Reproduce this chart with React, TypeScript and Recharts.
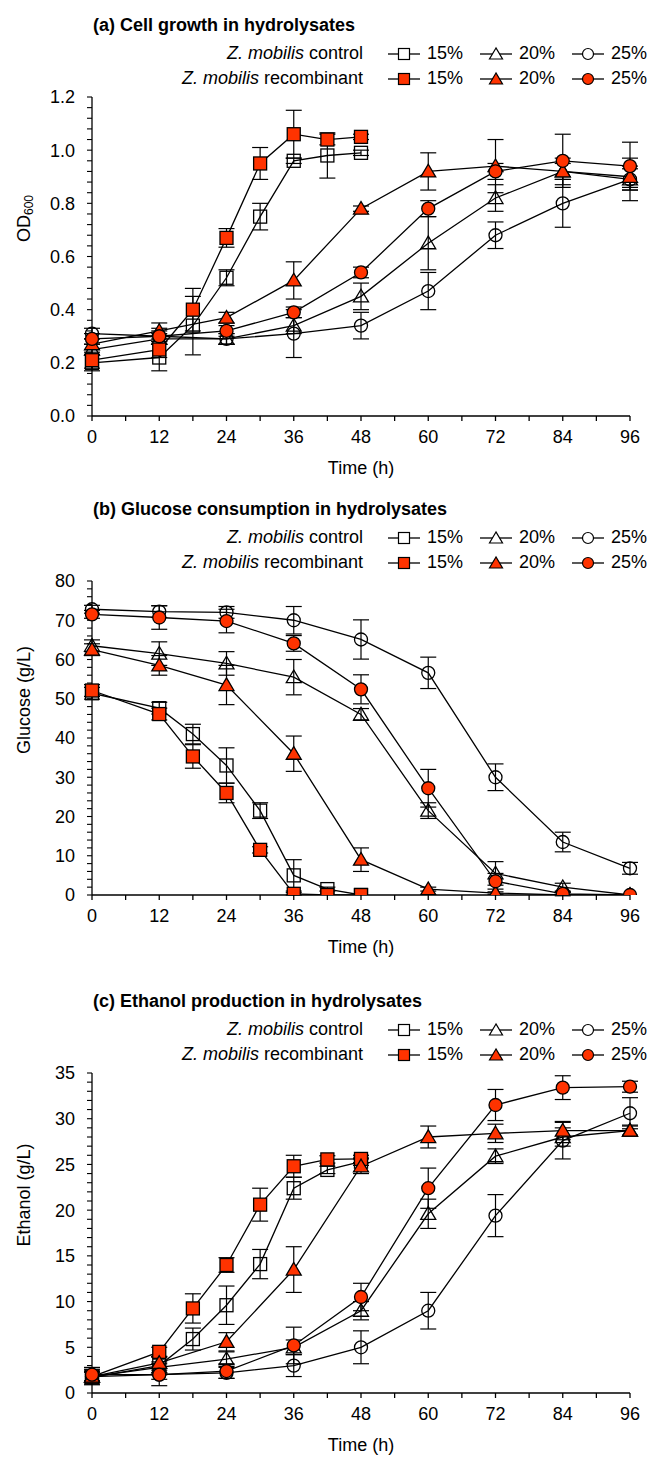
import React from "react";
import { LineChart, Line, XAxis, YAxis, ErrorBar } from "recharts";

const FONT = '"Liberation Sans", Arial, sans-serif';
const RED = "#FF3300";

// sampling times (h)
const times15 = [0, 12, 18, 24, 30, 36, 42, 48];
const timesAll = [0, 12, 24, 36, 48, 60, 72, 84, 96];
const xTicks = [0, 6, 12, 18, 24, 30, 36, 42, 48, 54, 60, 66, 72, 78, 84, 90, 96];

// (a) OD600
const odCtrl15 = [0.2, 0.22, 0.34, 0.52, 0.75, 0.96, 0.98, 0.99];
const odCtrl15Err = [0.03, 0.05, 0.11, 0.03, 0.05, 0.01, 0.085, 0.01];
const odRec15 = [0.21, 0.25, 0.4, 0.67, 0.95, 1.06, 1.04, 1.05];
const odRec15Err = [0.03, 0.03, 0.08, 0.035, 0.06, 0.09, 0.02, 0.01];
const odCtrl20 = [0.25, 0.29, 0.29, 0.34, 0.45, 0.65, 0.82, 0.92, 0.89];
const odCtrl20Err = [0.02, 0.02, 0.02, 0.03, 0.05, 0.1, 0.05, 0.03, 0.04];
const odRec20 = [0.27, 0.32, 0.37, 0.51, 0.78, 0.92, 0.94, 0.92, 0.9];
const odRec20Err = [0.02, 0.03, 0.02, 0.07, 0.01, 0.07, 0.1, 0.05, 0.04];
const odCtrl25 = [0.31, 0.3, 0.29, 0.31, 0.34, 0.47, 0.68, 0.8, 0.89];
const odCtrl25Err = [0.02, 0.02, 0.02, 0.09, 0.05, 0.07, 0.05, 0.09, 0.08];
const odRec25 = [0.29, 0.3, 0.32, 0.39, 0.54, 0.78, 0.92, 0.96, 0.94];
const odRec25Err = [0.02, 0.03, 0.02, 0.02, 0.02, 0.03, 0.03, 0.1, 0.09];

// (b) glucose g/L
const gluCtrl15 = [51.4, 47.6, 41.0, 33.0, 21.5, 5.0, 1.5, 0];
const gluCtrl15Err = [1.5, 1.5, 2.5, 4.5, 2, 4, 0.5, 0];
const gluRec15 = [52.1, 46.1, 35.3, 26.0, 11.5, 0.3, 0, 0];
const gluRec15Err = [1.5, 1.5, 3, 2.5, 0.8, 0.3, 0, 0];
const gluCtrl20 = [63.5, 61.5, 59.0, 55.5, 46.0, 21.5, 5.5, 2.0, 0];
const gluCtrl20Err = [1.5, 3, 3, 4.5, 1.5, 2, 3, 1, 0];
const gluRec20 = [62.5, 58.5, 53.5, 36.0, 9.0, 1.5, 0.5, 0, 0];
const gluRec20Err = [1.5, 2.5, 5, 4.5, 3, 0.5, 0.3, 0, 0];
const gluCtrl25 = [72.8, 72.2, 72.0, 70.0, 65.1, 56.6, 30.0, 13.5, 6.8];
const gluCtrl25Err = [1, 1.5, 1.5, 3.5, 5, 4, 3.4, 2.5, 1.5];
const gluRec25 = [71.5, 70.7, 69.8, 64.1, 52.4, 27.2, 3.5, 0.3, 0];
const gluRec25Err = [1, 3, 3, 2, 3.7, 4.8, 2, 0.5, 0];

// (c) ethanol g/L
const etCtrl15 = [1.7, 3.0, 5.9, 9.6, 14.1, 22.4, 24.4, 25.3];
const etCtrl15Err = [0.8, 1, 1.2, 2.1, 1.6, 1.2, 0.4, 0.4];
const etRec15 = [1.8, 4.5, 9.25, 14.0, 20.6, 24.8, 25.55, 25.6];
const etRec15Err = [0.8, 0.5, 1.6, 0.8, 1.8, 1.2, 0.4, 0.4];
const etCtrl20 = [1.8, 2.8, 3.7, 5.0, 9.0, 19.6, 25.9, 28.0, 28.7];
const etCtrl20Err = [0.5, 0.6, 0.8, 0.8, 1, 1.6, 0.8, 1, 0.6];
const etRec20 = [1.8, 3.3, 5.6, 13.5, 24.8, 28.0, 28.4, 28.7, 28.7];
const etRec20Err = [0.5, 0.6, 1, 2.5, 0.8, 1.2, 1, 1, 0.5];
const etCtrl25 = [1.8, 2.0, 2.2, 3.0, 5.0, 9.0, 19.4, 27.6, 30.6];
const etCtrl25Err = [0.5, 0.5, 0.6, 1.2, 1.8, 2, 2.3, 2, 1.7];
const etRec25 = [2.0, 2.0, 2.4, 5.2, 10.5, 22.4, 31.5, 33.4, 33.5];
const etRec25Err = [0.8, 1.2, 0.8, 2, 1.5, 2.2, 1.7, 1.3, 0.6];

const rows = (ts: number[], vs: number[], es: number[]) =>
  ts.map((t, i) => ({ t, v: vs[i], e: es[i] }));

type Shape = "square" | "triangle" | "circle";

function markerEl(shape: Shape, cx: number, cy: number, filled: boolean, s: number, key?: string) {
  const fill = filled ? RED : "none";
  const common = { stroke: "#000", strokeWidth: 1.3, fill };
  if (shape === "square")
    return <rect key={key} x={cx - s} y={cy - s} width={2 * s} height={2 * s} {...common} />;
  if (shape === "circle") return <circle key={key} cx={cx} cy={cy} r={s} {...common} />;
  return (
    <polygon
      key={key}
      points={`${cx},${cy - s * 1.1} ${cx - s * 1.15},${cy + s * 0.85} ${cx + s * 1.15},${cy + s * 0.85}`}
      {...common}
    />
  );
}

const dotFn = (shape: Shape, filled: boolean) => (p: any) => {
  if (p.cx == null || p.cy == null) return <g key={`d-${p.index}`} />;
  return markerEl(shape, p.cx, p.cy, filled, 6.5, `d-${p.index}`);
};

function LegendKey({ shape, filled }: { shape: Shape; filled: boolean }) {
  return (
    <svg width={32} height={16} style={{ verticalAlign: "middle" }}>
      <line x1={0} y1={8} x2={32} y2={8} stroke="#000" strokeWidth={1.3} />
      {shape === "square" && <rect x={10.5} y={2.5} width={11} height={11} stroke="#000" strokeWidth={1.2} fill={filled ? RED : "#fff"} />}
      {shape === "circle" && <circle cx={16} cy={8} r={5.5} stroke="#000" strokeWidth={1.2} fill={filled ? RED : "#fff"} />}
      {shape === "triangle" && <polygon points="16,2 9.5,13 22.5,13" stroke="#000" strokeWidth={1.2} fill={filled ? RED : "#fff"} />}
    </svg>
  );
}

const levels = ["15%", "20%", "25%"];
const shapes: Shape[] = ["square", "triangle", "circle"];
const entryX = [388, 480, 572];

function LegendRow({ top, label, filled }: { top: number; label: string; filled: boolean }) {
  return (
    <>
      <div style={{ position: "absolute", top, left: 0, width: 363, textAlign: "right", lineHeight: "24px", fontSize: 18 }}>
        <i>Z. mobilis</i> {label}
      </div>
      {levels.map((lv, i) => (
        <div key={lv} style={{ position: "absolute", top, left: entryX[i], lineHeight: "24px", fontSize: 18, whiteSpace: "nowrap" }}>
          <LegendKey shape={shapes[i]} filled={filled} />
          <span style={{ marginLeft: 7 }}>{lv}</span>
        </div>
      ))}
    </>
  );
}

type Series = { data: { t: number; v: number; e: number }[]; shape: Shape; filled: boolean };

type PanelProps = {
  top: number;
  height: number;
  plotH: number;
  title: string;
  yLabel: React.ReactNode;
  domain: [number, number];
  ticks: number[];
  major: number;
  digits: number;
  series: Series[];
};

function Panel({ top, height, plotH, title, yLabel, domain, ticks, major, digits, series }: PanelProps) {
  const plotTop = 97;
  const xAxisH = 58;
  const cy = plotTop + plotH / 2;
  const isMajor = (v: number) => Math.abs(v / major - Math.round(v / major)) < 1e-6;
  return (
    <div style={{ position: "absolute", left: 0, top, width: 651, height }}>
      <LineChart
        width={651}
        height={height}
        margin={{ top: plotTop, right: 21, left: 32, bottom: height - plotTop - plotH - xAxisH }}
      >
        <XAxis
          dataKey="t"
          type="number"
          domain={[0, 96]}
          ticks={xTicks}
          interval={0}
          allowDuplicatedCategory={false}
          tickFormatter={(v: number) => (v % 12 === 0 ? String(v) : "")}
          axisLine={{ stroke: "#000", strokeWidth: 1.3 }}
          tickLine={{ stroke: "#000", strokeWidth: 1.3 }}
          tickSize={5}
          tickMargin={9}
          tick={{ fill: "#000", fontSize: 18, fontFamily: FONT }}
          height={xAxisH}
          label={{ value: "Time (h)", position: "insideBottom", offset: 0, fill: "#000", fontSize: 18, fontFamily: FONT }}
        />
        <YAxis
          type="number"
          domain={domain}
          ticks={ticks}
          interval={0}
          allowDataOverflow
          width={60}
          tickFormatter={(v: number) => (isMajor(v) ? v.toFixed(digits) : "")}
          axisLine={{ stroke: "#000", strokeWidth: 1.3 }}
          tickLine={{ stroke: "#000", strokeWidth: 1.1 }}
          tickSize={5}
          tickMargin={12}
          tick={{ fill: "#000", fontSize: 18, fontFamily: FONT }}
          label={
            <text
              x={24}
              y={cy}
              transform={`rotate(-90, 24, ${cy})`}
              textAnchor="middle"
              dominantBaseline="central"
              fontSize={18}
              fontFamily={FONT}
              fill="#000"
            >
              {yLabel}
            </text>
          }
        />
        {series.map((s, i) => (
          <Line
            key={i}
            data={s.data}
            dataKey="v"
            stroke="#000"
            strokeWidth={1.3}
            dot={dotFn(s.shape, s.filled)}
            activeDot={false}
            isAnimationActive={false}
            legendType="none"
          >
            <ErrorBar dataKey="e" width={8} stroke="#000" strokeWidth={1.2} direction="y" />
          </Line>
        ))}
      </LineChart>
      <div style={{ position: "absolute", top: 13, left: 93, fontSize: 18, fontWeight: "bold", lineHeight: "24px" }}>{title}</div>
      <LegendRow top={41} label="control" filled={false} />
      <LegendRow top={66} label="recombinant" filled={true} />
    </div>
  );
}

const range = (max: number, step: number) =>
  Array.from({ length: Math.round(max / step) + 1 }, (_, i) => Number((i * step).toFixed(4)));

export default function App() {
  const sA: Series[] = [
    { data: rows(times15, odCtrl15, odCtrl15Err), shape: "square", filled: false },
    { data: rows(timesAll, odCtrl20, odCtrl20Err), shape: "triangle", filled: false },
    { data: rows(timesAll, odCtrl25, odCtrl25Err), shape: "circle", filled: false },
    { data: rows(times15, odRec15, odRec15Err), shape: "square", filled: true },
    { data: rows(timesAll, odRec20, odRec20Err), shape: "triangle", filled: true },
    { data: rows(timesAll, odRec25, odRec25Err), shape: "circle", filled: true },
  ];
  const sB: Series[] = [
    { data: rows(times15, gluCtrl15, gluCtrl15Err), shape: "square", filled: false },
    { data: rows(timesAll, gluCtrl20, gluCtrl20Err), shape: "triangle", filled: false },
    { data: rows(timesAll, gluCtrl25, gluCtrl25Err), shape: "circle", filled: false },
    { data: rows(times15, gluRec15, gluRec15Err), shape: "square", filled: true },
    { data: rows(timesAll, gluRec20, gluRec20Err), shape: "triangle", filled: true },
    { data: rows(timesAll, gluRec25, gluRec25Err), shape: "circle", filled: true },
  ];
  const sC: Series[] = [
    { data: rows(times15, etCtrl15, etCtrl15Err), shape: "square", filled: false },
    { data: rows(timesAll, etCtrl20, etCtrl20Err), shape: "triangle", filled: false },
    { data: rows(timesAll, etCtrl25, etCtrl25Err), shape: "circle", filled: false },
    { data: rows(times15, etRec15, etRec15Err), shape: "square", filled: true },
    { data: rows(timesAll, etRec20, etRec20Err), shape: "triangle", filled: true },
    { data: rows(timesAll, etRec25, etRec25Err), shape: "circle", filled: true },
  ];
  return (
    <div style={{ position: "absolute", left: 0, top: 0, width: 651, height: 1459, background: "#fff", fontFamily: FONT, color: "#000" }}>
      <Panel
        top={0}
        height={484}
        plotH={319}
        title="(a) Cell growth in hydrolysates"
        yLabel={
          <>
            <tspan>OD</tspan>
            <tspan fontSize={12} dy={5}>600</tspan>
          </>
        }
        domain={[0, 1.2]}
        ticks={range(1.2, 0.04)}
        major={0.2}
        digits={1}
        series={sA}
      />
      <Panel
        top={484}
        height={484}
        plotH={314}
        title="(b) Glucose consumption in hydrolysates"
        yLabel="Glucose (g/L)"
        domain={[0, 80]}
        ticks={range(80, 2)}
        major={10}
        digits={0}
        series={sB}
      />
      <Panel
        top={976}
        height={483}
        plotH={320}
        title="(c) Ethanol production in hydrolysates"
        yLabel="Ethanol (g/L)"
        domain={[0, 35]}
        ticks={range(35, 1)}
        major={5}
        digits={0}
        series={sC}
      />
    </div>
  );
}
